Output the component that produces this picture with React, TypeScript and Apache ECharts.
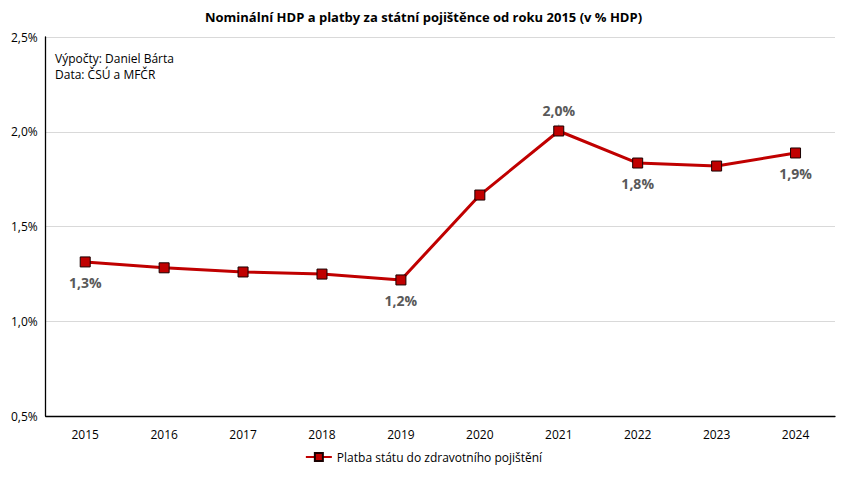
import React, { useEffect, useRef } from "react";
import * as echarts from "echarts";

const years = ["2015", "2016", "2017", "2018", "2019", "2020", "2021", "2022", "2023", "2024"];
const values = [1.313, 1.282, 1.26, 1.249, 1.218, 1.666, 2.004, 1.835, 1.819, 1.888];
const labeled = [0, 4, 6, 7, 9];
const labelAbove = [6];
const seriesName = "Platba státu do zdravotního pojištění";
const titleText = "Nominální HDP a platby za státní pojištěnce od roku 2015 (v % HDP)";
const noteLines = ["Výpočty: Daniel Bárta", "Data: ČSÚ a MFČR"];

const fmt = (v: number) => v.toFixed(1).replace(".", ",") + "%";

export default function App() {
  const ref = useRef<HTMLDivElement>(null);
  useEffect(() => {
    const chart = echarts.init(ref.current!, null, { renderer: "svg" });
    const font = "Open Sans, Noto Sans, sans-serif";
    const data = values.map((v, i) => {
      const item: any = { value: v };
      if (labeled.includes(i)) {
        const above = labelAbove.includes(i);
        item.label = {
          show: true,
          position: above ? "top" : "bottom",
          distance: above ? 8 : 8,
          formatter: () => fmt(v),
        };
        if (above) {
          item.labelLine = { show: true };
        }
      }
      return item;
    });
    chart.setOption({
      animation: false,
      backgroundColor: "#fff",
      title: {
        text: titleText,
        left: "center",
        top: -3,
        textStyle: { fontFamily: font, fontSize: 13, fontWeight: "bold", color: "#000" },
      },
      grid: { left: 34, right: 4, top: 29, bottom: 53, containLabel: false },
      legend: {
        bottom: 1,
        left: "center",
        itemWidth: 26,
        itemHeight: 10,
        textStyle: { fontFamily: font, fontSize: 12, color: "#000" },
        data: [{ name: seriesName }],
      },
      xAxis: {
        type: "category",
        data: years,
        boundaryGap: true,
        axisLine: { lineStyle: { color: "#000", width: 1.3 } },
        axisTick: { show: false },
        axisLabel: { fontFamily: font, fontSize: 12, color: "#000", margin: 12 },
      },
      yAxis: {
        type: "value",
        min: 0.5,
        max: 2.5,
        interval: 0.5,
        axisLine: { show: true, lineStyle: { color: "#000", width: 1.3 } },
        axisTick: { show: false },
        splitLine: { lineStyle: { color: "#d9d9d9" } },
        axisLabel: {
          fontFamily: font,
          fontSize: 12,
          color: "#000",
          margin: 8,
          formatter: (v: number) => fmt(v),
        },
      },
      graphic: noteLines.map((t, i) => ({
        type: "text",
        left: 47,
        top: 44 + i * 16,
        style: { text: t, fontFamily: font, fontSize: 12, fill: "#000" },
      })),
      series: [
        {
          name: seriesName,
          type: "line",
          data,
          symbol: "rect",
          symbolSize: 10,
          itemStyle: { color: "#c00000", borderColor: "#1a0000", borderWidth: 1 },
          lineStyle: { color: "#c00000", width: 3 },
          labelLine: { show: false, lineStyle: { color: "#aaa" } },
          label: {
            show: false,
            fontFamily: font,
            fontSize: 14,
            fontWeight: "bold",
            color: "#595959",
          },
        },
      ],
    });
    return () => chart.dispose();
  }, []);
  return <div ref={ref} style={{ width: 831, height: 461 }} />;
}
